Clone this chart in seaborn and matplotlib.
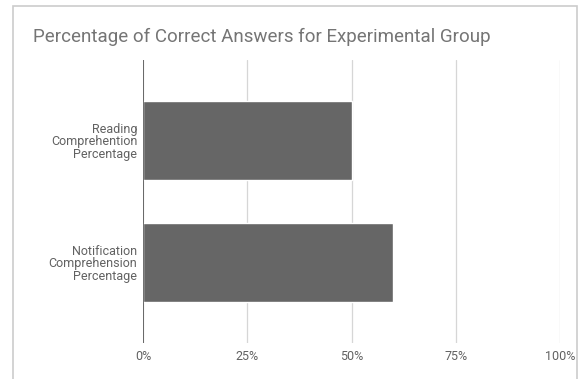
import matplotlib
matplotlib.use("Agg")
import matplotlib.pyplot as plt
from matplotlib.patches import Rectangle
from matplotlib.ticker import PercentFormatter
import seaborn as sns
import pandas as pd

categories = ["Reading\nComprehention\nPercentage", "Notification\nComprehension\nPercentage"]
values = [50, 60]
x_ticks = [0, 25, 50, 75, 100]

sns.set_theme(style="white")
plt.rcParams["font.family"] = ["Roboto", "DejaVu Sans"]

W, H = 579, 379
fig = plt.figure(figsize=(W / 100, H / 100), dpi=100)
ax = fig.add_axes([143 / W, 1 - 343 / H, (560 - 143) / W, (343 - 60) / H])

# outer chart frame
fig.patches.append(Rectangle((13 / W, -0.05), (577 - 13) / W, 1 - 6.5 / H + 0.05,
                             transform=fig.transFigure, fill=False,
                             edgecolor="#cccccc", linewidth=1.2))

df = pd.DataFrame({"category": categories, "value": values})
sns.barplot(data=df, y="category", x="value", orient="h", color="#666666",
            saturation=1, width=0.65, ax=ax)

ax.set_xlim(0, 100)
ax.set_ylim(1.66, -0.66)
ax.set_xticks(x_ticks)
ax.xaxis.set_major_formatter(PercentFormatter(decimals=0))
ax.grid(axis="x", color="#d6d6d6", linewidth=0.9)
ax.set_axisbelow(True)
for s in ax.spines.values():
    s.set_visible(False)
ax.axvline(0, color="#555555", linewidth=1.2, zorder=3)
ax.set_xlabel("")
ax.set_ylabel("")
ax.tick_params(axis="both", length=0, labelsize=9, labelcolor="#616161")
ax.tick_params(axis="x", pad=5)
ax.tick_params(axis="y", pad=4)
for lbl in ax.get_yticklabels():
    lbl.set_horizontalalignment("right")
    lbl.set_multialignment("right")
    lbl.set_linespacing(0.95)

fig.text(33 / W, 1 - 37 / H, "Percentage of Correct Answers for Experimental Group",
         fontsize=13.5, color="#757575", va="center", ha="left")

fig.savefig("out.png", dpi=100, facecolor="white")
